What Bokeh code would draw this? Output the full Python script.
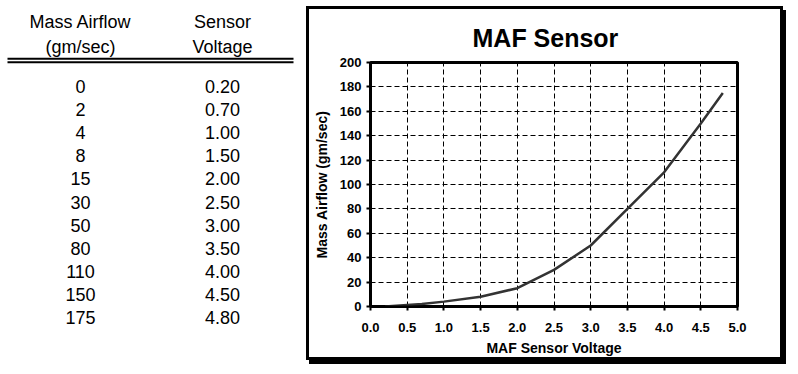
from bokeh.plotting import figure
from bokeh.layouts import row, column
from bokeh.models import Range1d, FixedTicker, NumeralTickFormatter, Title
from bokeh.core.properties import value
from bokeh.embed import file_html
from bokeh.resources import INLINE

airflow = [0, 2, 4, 8, 15, 30, 50, 80, 110, 150, 175]
voltage = [0.20, 0.70, 1.00, 1.50, 2.00, 2.50, 3.00, 3.50, 4.00, 4.50, 4.80]
x_ticks = [0.0, 0.5, 1.0, 1.5, 2.0, 2.5, 3.0, 3.5, 4.0, 4.5, 5.0]
y_ticks = [0, 20, 40, 60, 80, 100, 120, 140, 160, 180, 200]
col_headers = [["Mass Airflow", "(gm/sec)"], ["Sensor", "Voltage"]]
chart_title = "MAF Sensor"
x_label = "MAF Sensor Voltage"
y_label = "Mass Airflow (gm/sec)"

FONT = "Liberation Sans"

# ================= table (left) =================
TW, TH = 306, 372
t = figure(frame_width=TW, frame_height=TH, output_backend="svg", toolbar_location=None,
           x_range=Range1d(0, TW), y_range=Range1d(TH, 0),
           min_border=0, min_border_left=0, min_border_right=0,
           min_border_top=0, min_border_bottom=0,
           x_axis_type=None, y_axis_type=None)
t.grid.visible = False
t.outline_line_color = None
t.background_fill_color = "white"
t.border_fill_color = "white"

col_x = [80, 222]
head_base = [21, 46]
hx, hy, htxt = [], [], []
for cx, hdr in zip(col_x, col_headers):
    for hb, s in zip(head_base, hdr):
        hx.append(cx)
        hy.append(hb)
        htxt.append(s)
t.text(x=hx, y=hy, text=htxt, text_align="center", text_baseline="alphabetic",
       text_font=value(FONT), text_font_size="18px", text_color="black")

t.segment(x0=[7, 7], y0=[58.3, 61.7], x1=[293, 293], y1=[58.3, 61.7],
          line_color="black", line_width=2)

row_base0, row_step = 86, 23.1
ry = [row_base0 + i * row_step for i in range(len(airflow))]
t.text(x=[col_x[0]] * len(airflow), y=ry, text=[str(a) for a in airflow],
       text_align="center", text_baseline="alphabetic", text_font=value(FONT),
       text_font_size="18px", text_color="black")
t.text(x=[col_x[1]] * len(voltage), y=ry, text=[f"{v:.2f}" for v in voltage],
       text_align="center", text_baseline="alphabetic", text_font=value(FONT),
       text_font_size="18px", text_color="black")

# ================= chart (right) =================
CW, CH = 477, 354
# frame inside the chart box (box content starts at page x 309, y 9)
FL, FR, FT, FB = 370 - 309, 737 - 309, 62 - 9, 306 - 9
p = figure(width=CW, height=CH, output_backend="svg", toolbar_location=None,
           x_range=Range1d(0, 5), y_range=Range1d(0, 200),
           min_border_left=FL, min_border_right=CW - FR,
           min_border_top=FT, min_border_bottom=CH - FB)
p.styles = {"border": "3px solid black", "box-shadow": "3px 4px 0 0 black"}
p.margin = (6, 0, 0, 0)
p.background_fill_color = "white"
p.border_fill_color = "white"
p.outline_line_color = "black"
p.outline_line_width = 3

p.add_layout(Title(text=chart_title, align="left", text_font=FONT,
                   text_font_size="25px", text_font_style="bold",
                   text_color="black", standoff=22, offset=102), "above")

p.xaxis.ticker = FixedTicker(ticks=x_ticks)
p.xaxis.formatter = NumeralTickFormatter(format="0.0")
p.yaxis.ticker = FixedTicker(ticks=y_ticks)
for ax in (p.xaxis, p.yaxis):
    ax.axis_line_color = "black"
    ax.axis_line_width = 2
    ax.major_tick_line_color = "black"
    ax.major_tick_line_width = 2
    ax.major_tick_in = 0
    ax.major_tick_out = 4
    ax.minor_tick_line_color = None
    ax.major_label_text_font = FONT
    ax.major_label_text_font_size = "13px"
    ax.major_label_text_font_style = "bold"
    ax.major_label_text_color = "black"
    ax.axis_label_text_font = FONT
    ax.axis_label_text_font_size = "14px"
    ax.axis_label_text_font_style = "bold"
    ax.axis_label_text_color = "black"
p.xaxis.axis_label = x_label
p.yaxis.axis_label = y_label
p.xaxis.major_label_standoff = 12
p.xaxis.axis_label_standoff = 5
p.yaxis.major_label_standoff = 5
p.yaxis.axis_label_standoff = 7

p.grid.grid_line_color = "black"
p.grid.grid_line_dash = "5 3"
p.grid.grid_line_width = 1

p.line(voltage, airflow, line_color="#333333", line_width=2.5)

layout = row(column(t), column(p), spacing=0)
open("out.html", "w").write(file_html(layout, INLINE))
